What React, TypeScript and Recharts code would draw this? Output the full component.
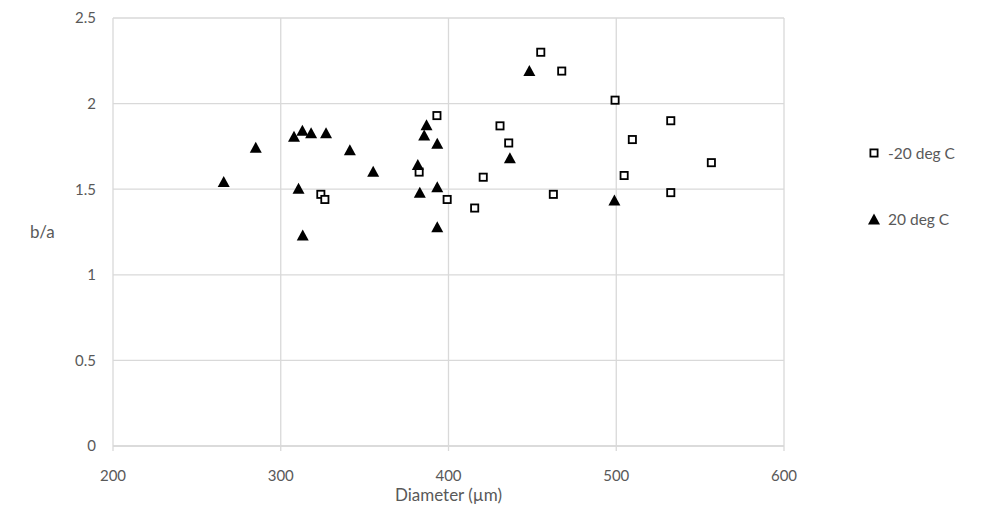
import React from "react";
import {
  ScatterChart,
  Scatter,
  XAxis,
  YAxis,
  CartesianGrid,
  Label,
} from "recharts";

const coldDiameter = [
  323.9, 326.3, 382.5, 399.2, 393.1, 420.7, 430.7, 435.9, 462.5, 415.6, 455.0,
  467.5, 499.3, 532.5, 509.6, 556.7, 504.7, 532.5,
];
const coldRatio = [
  1.47, 1.44, 1.6, 1.44, 1.93, 1.57, 1.87, 1.77, 1.47, 1.39, 2.3, 2.19, 2.02,
  1.9, 1.79, 1.655, 1.58, 1.48,
];

const warmDiameter = [
  266.0, 285.1, 307.9, 312.9, 318.1, 327.0, 341.2, 355.1, 310.6, 313.1, 381.7,
  382.9, 393.3, 393.3, 385.5, 386.9, 393.3, 448.2, 436.6, 498.9,
];
const warmRatio = [
  1.545, 1.745, 1.81, 1.845, 1.83, 1.83, 1.73, 1.605, 1.505, 1.232, 1.645,
  1.482, 1.515, 1.28, 1.817, 1.877, 1.768, 2.193, 1.684, 1.437,
];

const xTicks = [200, 300, 400, 500, 600];
const yTicks = [0, 0.5, 1, 1.5, 2, 2.5];

const coldData = coldDiameter.map((d, i) => ({ d, r: coldRatio[i] }));
const warmData = warmDiameter.map((d, i) => ({ d, r: warmRatio[i] }));

const FONT = "Lato, 'Open Sans', sans-serif";
const TEXT = "#595959";
const GRID = "#d9d9d9";

const SquareMark = (props: any) => {
  const { cx, cy } = props;
  return (
    <rect
      x={cx - 3.6}
      y={cy - 3.6}
      width={7.2}
      height={7.2}
      fill="#fff"
      stroke="#000"
      strokeWidth={1.8}
    />
  );
};

const TriangleMark = (props: any) => {
  const { cx, cy } = props;
  return (
    <polygon
      points={`${cx - 6},${cy + 5.5} ${cx + 6},${cy + 5.5} ${cx},${cy - 5.5}`}
      fill="#000"
    />
  );
};

// legend drawn beside the chart, Excel style
const LegendBox = () => (
  <div
    style={{
      position: "absolute",
      left: 859,
      top: 135,
      fontFamily: FONT,
      fontSize: 15.5,
      color: TEXT,
    }}
  >
    <div style={{ display: "flex", alignItems: "center", height: 20 }}>
      <svg width={14} height={14} style={{ marginRight: 7 }}>
        <rect x={3.4} y={3.4} width={7.2} height={7.2} fill="#fff" stroke="#000" strokeWidth={1.8} />
      </svg>
      -20 deg C
    </div>
    <div style={{ display: "flex", alignItems: "center", height: 20, marginTop: 46 }}>
      <svg width={14} height={14} style={{ marginRight: 7 }}>
        <polygon points="1,12.5 13,12.5 7,1.5" fill="#000" />
      </svg>
      20 deg C
    </div>
  </div>
);

export default function App() {
  return (
    <div style={{ position: "relative", width: 968, height: 515 }}>
      <ScatterChart
        width={968}
        height={515}
        margin={{ top: 10, right: 192, bottom: 17, left: 0 }}
      >
        <CartesianGrid stroke={GRID} strokeWidth={1.3} />
        <XAxis
          type="number"
          dataKey="d"
          domain={[200, 600]}
          ticks={xTicks}
          height={60}
          stroke={GRID}
          strokeWidth={1.3}
          tickSize={5}
          tickMargin={19}
          tick={{ fill: TEXT, fontSize: 15, fontFamily: FONT }}
        >
          <Label
            value="Diameter (µm)"
            position="insideBottom"
            offset={5}
            style={{ fill: TEXT, fontSize: 17, fontFamily: FONT }}
          />
        </XAxis>
        <YAxis
          type="number"
          dataKey="r"
          domain={[0, 2.5]}
          ticks={yTicks}
          width={105}
          axisLine={false}
          tickLine={false}
          tickSize={0}
          tickMargin={17}
          tick={{ fill: TEXT, fontSize: 15, fontFamily: FONT }}
        >
          <Label
            value="b/a"
            position="insideLeft"
            offset={22}
            style={{ fill: TEXT, fontSize: 17, fontFamily: FONT }}
          />
        </YAxis>
        <Scatter
          name="-20 deg C"
          data={coldData}
          shape={<SquareMark />}
          isAnimationActive={false}
        />
        <Scatter
          name="20 deg C"
          data={warmData}
          shape={<TriangleMark />}
          isAnimationActive={false}
        />
      </ScatterChart>
      <LegendBox />
    </div>
  );
}
